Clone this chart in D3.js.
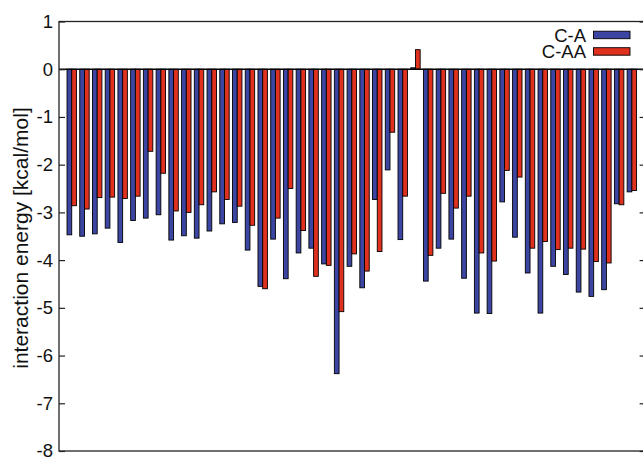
<!DOCTYPE html>
<html>
<head>
<meta charset="utf-8">
<script src="https://cdn.jsdelivr.net/npm/d3@7"></script>
<style>
  body { margin: 0; background: #fff; }
  svg { display: block; font-family: "Liberation Sans", Arial, sans-serif; }
</style>
</head>
<body>
<svg id="chart" width="643" height="457"></svg>
<script>
// values
const seriesNames = ["C-A", "C-AA"];
const valuesCA = [
  -3.47, -3.50, -3.45, -3.33, -3.63, -3.17, -3.12, -3.05, -3.58, -3.49,
  -3.54, -3.39, -3.24, -3.21, -3.79, -4.55, -3.56, -4.39, -3.85, -3.75,
  -4.08, -6.38, -4.13, -4.58, -2.73, -2.11, -3.57, 0.03, -4.44, -3.75,
  -3.56, -4.38, -5.11, -5.12, -2.78, -3.52, -4.27, -5.11, -4.13, -4.30,
  -4.67, -4.76, -4.62, -2.82, -2.57
];
const valuesCAA = [
  -2.86, -2.93, -2.69, -2.68, -2.71, -2.66, -1.72, -2.18, -2.97, -3.00,
  -2.84, -2.57, -2.73, -2.87, -3.27, -4.60, -3.12, -2.50, -3.38, -4.34,
  -4.11, -5.08, -3.87, -4.23, -3.82, -1.32, -2.66, 0.41, -3.90, -2.60,
  -2.91, -2.66, -3.85, -4.02, -2.12, -2.26, -3.75, -3.61, -3.78, -3.75,
  -3.77, -4.03, -4.06, -2.84, -2.54
];
const yTicks = [1, 0, -1, -2, -3, -4, -5, -6, -7, -8];
const colors = ["#3c46a2", "#e0301e"];

const svg = d3.select("#chart");
const plotLeft = 59, plotRight = 644.6, plotTop = 21.5, plotBottom = 451;

const x = d3.scaleLinear().domain([0, valuesCA.length + 1]).range([plotLeft, plotRight]);
const y = d3.scaleLinear().domain([-8, 1]).range([plotBottom, plotTop]);
const bw = x(0.37) - x(0);

// bars
const series = [valuesCA, valuesCAA];
series.forEach((vals, s) => {
  svg.append("g").selectAll("rect")
    .data(vals)
    .join("rect")
    .attr("x", (d, i) => x(i + 1) - bw + s * bw)
    .attr("y", d => y(Math.max(0, d)))
    .attr("width", bw)
    .attr("height", d => Math.abs(y(d) - y(0)))
    .attr("fill", colors[s])
    .attr("stroke", "#000")
    .attr("stroke-width", 0.9);
});

// zero line
svg.append("line")
  .attr("x1", plotLeft).attr("x2", plotRight)
  .attr("y1", y(0)).attr("y2", y(0))
  .attr("stroke", "#000").attr("stroke-width", 1.5);

// frame
svg.append("rect")
  .attr("x", plotLeft).attr("y", plotTop)
  .attr("width", plotRight - plotLeft).attr("height", plotBottom - plotTop)
  .attr("fill", "none").attr("stroke", "#222").attr("stroke-width", 1.3);

// y axis, ticks inward
const yAxis = svg.append("g").attr("transform", `translate(${plotLeft},0)`)
  .call(d3.axisLeft(y).tickValues(yTicks).tickSize(-6).tickPadding(6).tickFormat(d => String(d)));
yAxis.select(".domain").remove();
yAxis.selectAll("text").attr("font-size", 18.5).attr("fill", "#111")
  .attr("font-family", "Liberation Sans, Arial, sans-serif");
yAxis.selectAll("line").attr("stroke", "#222").attr("stroke-width", 1.2);

const yAxisR = svg.append("g").attr("transform", `translate(${plotRight},0)`)
  .call(d3.axisRight(y).tickValues(yTicks).tickSize(-5).tickFormat(""));
yAxisR.select(".domain").remove();
yAxisR.selectAll("line").attr("stroke", "#222").attr("stroke-width", 1.2);

// y label
svg.append("text")
  .attr("transform", `translate(28,238) rotate(-90)`)
  .attr("text-anchor", "middle")
  .attr("font-size", 21)
  .attr("fill", "#111")
  .text("interaction energy [kcal/mol]");

// legend
const legend = svg.append("g");
seriesNames.forEach((name, s) => {
  const ly = 31.2 + s * 16.5;
  legend.append("text")
    .attr("x", 586).attr("y", ly + 10.5)
    .attr("text-anchor", "end")
    .attr("font-size", 18.5)
    .attr("fill", "#111")
    .text(name);
  legend.append("rect")
    .attr("x", 593.5).attr("y", ly)
    .attr("width", 36.5).attr("height", 7.5)
    .attr("fill", colors[s])
    .attr("stroke", "#000").attr("stroke-width", 0.9);
});
</script>
</body>
</html>
